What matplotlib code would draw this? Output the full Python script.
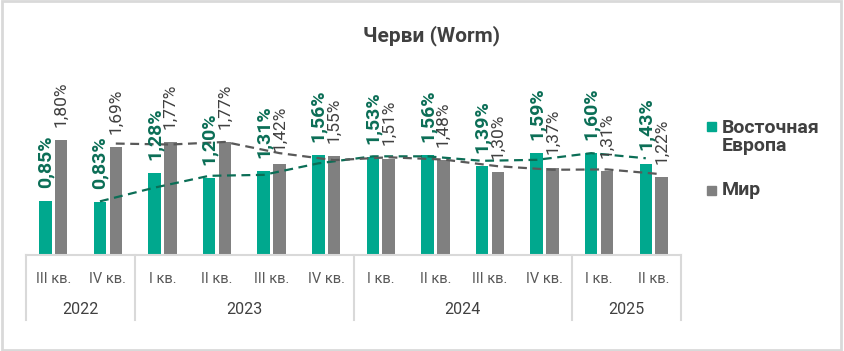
"""
Черви (Worm): quarterly share, Eastern Europe vs world
"""

import numpy as np
import pandas as pd
import matplotlib
matplotlib.use('Agg')
import matplotlib.pyplot as plt
import matplotlib.transforms as mtransforms
from matplotlib.patches import Rectangle

#---------------------------------------------------------------------------------------------------
# Data
#---------------------------------------------------------------------------------------------------

quarters = ['III кв.', 'IV кв.', 'I кв.', 'II кв.', 'III кв.', 'IV кв.',
            'I кв.', 'II кв.', 'III кв.', 'IV кв.', 'I кв.', 'II кв.']
years = ['2022', '2023', '2024', '2025']
year_counts = [2, 4, 4, 2]

east = [0.85, 0.83, 1.28, 1.20, 1.31, 1.56, 1.53, 1.56, 1.39, 1.59, 1.60, 1.43]
world = [1.80, 1.69, 1.77, 1.77, 1.42, 1.55, 1.51, 1.48, 1.30, 1.37, 1.31, 1.22]

series_names = ['Восточная\nЕвропа', 'Мир']

#---------------------------------------------------------------------------------------------------
# Style
#---------------------------------------------------------------------------------------------------

plt.rcParams['font.family'] = ['Roboto', 'DejaVu Sans']

green = '#00a88e'
green_dark = '#0b6e56'
grey = '#808080'
grey_dark = '#595959'
text_col = '#404040'
line_col = '#d9d9d9'

bw = 0.23
off = 0.145

W, H = 844, 351

#---------------------------------------------------------------------------------------------------
# Plot
#---------------------------------------------------------------------------------------------------

fig = plt.figure(figsize=(W/100, H/100), dpi=100)
ax = fig.add_axes([26/W, 96/H, 655/W, 205/H])

x = np.arange(len(quarters))
ax.bar(x - off, east, width=bw, color=green, zorder=2)
ax.bar(x + off, world, width=bw, color=grey, zorder=2)

# 2-period moving average trendlines
ma_east = pd.Series(east).rolling(2).mean()
ma_world = pd.Series(world).rolling(2).mean()
ax.plot(x - off, ma_east, ls=(0, (4, 2.5)), color=green_dark, lw=1.6, zorder=3)
ax.plot(x + off, ma_world, ls=(0, (4, 2.5)), color=grey_dark, lw=1.6, zorder=3)

# Data labels
for xi, v in zip(x, east):
    ax.annotate(f"{v:.2f}%".replace('.', ','), (xi - off, v), xytext=(0, 9.5),
                textcoords='offset points', rotation=90, ha='center', va='bottom',
                fontsize=14, fontweight='bold', color=green_dark, zorder=4)
for xi, v in zip(x, world):
    ax.annotate(f"{v:.2f}%".replace('.', ','), (xi + off, v), xytext=(0, 9.5),
                textcoords='offset points', rotation=90, ha='center', va='bottom',
                fontsize=12.5, color=text_col, zorder=4)

ax.set_xlim(-0.5, len(quarters) - 0.5)
ax.set_ylim(0, 3.21)
ax.set_xticks([])
ax.set_yticks([])
for s in ['top', 'left', 'right']:
    ax.spines[s].set_visible(False)
ax.spines['bottom'].set_color(line_col)
ax.spines['bottom'].set_linewidth(1.5)

# Two-level category axis
trans = mtransforms.blended_transform_factory(ax.transData, ax.transAxes)
for xi, q in zip(x, quarters):
    ax.text(xi, -24/205, q, transform=trans, ha='center', va='center',
            fontsize=10.5, color=grey_dark)
edges = np.concatenate([[0], np.cumsum(year_counts)]) - 0.5
for e in edges:
    ax.plot([e, e], [0, -65/205], transform=trans, color=line_col, lw=1.5, clip_on=False)
for yr, a, b in zip(years, edges[:-1], edges[1:]):
    ax.text((a + b) / 2, -55/205, yr, transform=trans, ha='center', va='center',
            fontsize=11.5, color=text_col)

# Title
fig.text(432/W, 1 - 36/H, 'Черви (Worm)', ha='center', va='center',
         fontsize=15, fontweight='bold', color=text_col)

# Legend
for name, col, ty, sy in zip(series_names, [green, grey], [137, 190], [126, 190]):
    fig.patches.append(Rectangle((707/W, 1 - (sy + 4.5)/H), 9/W, 9/H,
                                 transform=fig.transFigure, color=col))
    fig.text(722/W, 1 - ty/H, name, ha='left', va='center', fontsize=14,
             fontweight='bold', color=text_col, linespacing=1.0)

# Outer border
fig.patches.append(Rectangle((0.002, 0.004), 0.995, 0.992, transform=fig.transFigure,
                             fill=False, edgecolor=line_col, lw=2))

plt.savefig('out.png', dpi=100)
plt.close()
